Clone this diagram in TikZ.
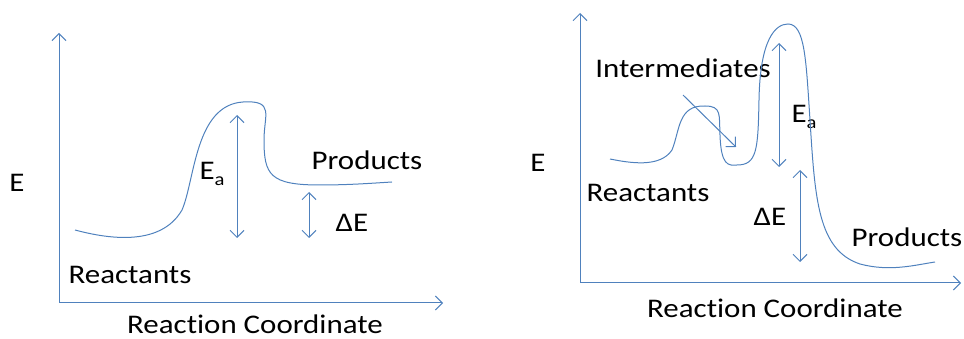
\documentclass[tikz,border=0pt]{standalone}
\usepackage{fontspec}
\setmainfont[FakeStretch=1.15,Ligatures=NoCommon]{Carlito}
\usetikzlibrary{arrows.meta}
\definecolor{linecol}{RGB}{79,129,189}
\begin{document}
\begin{tikzpicture}[line width=1bp,
  lbl/.style={font=\fontsize{27}{30}\selectfont,inner sep=0pt},
  axis/.style={draw=linecol,-{Straight Barb[length=7bp,width=14bp]}},
  gap/.style={draw=linecol,{Straight Barb[length=7bp,width=14bp]}-{Straight Barb[length=7bp,width=14bp]}},
  curve/.style={draw=linecol}]
  \useasboundingbox (0bp,0bp) rectangle (964bp,339bp);
  \coordinate (O1) at (59bp,36bp);
  \coordinate (Y1) at (59bp,306bp);
  \coordinate (X1) at (443bp,36bp);
  \coordinate (O2) at (580bp,56bp);
  \coordinate (Y2) at (580bp,326bp);
  \coordinate (X2) at (961bp,56bp);
  \node (E1) at (17bp,156bp) [lbl] {E};
  \node (Ea1) at (212bp,165bp) [lbl] {E\raisebox{-0.5ex}{\fontsize{18}{20}\selectfont a}};
  \node (Prod1) at (367bp,179bp) [lbl] {Products};
  \node (dE1) at (352bp,116bp) [lbl] {ΔE};
  \node (React1) at (130bp,64bp) [lbl] {Reactants};
  \node (RC1) at (255bp,15bp) [lbl] {Reaction Coordinate};
  \node (E2) at (538bp,176bp) [lbl] {E};
  \node (Ea2) at (804bp,222bp) [lbl] {E\raisebox{-0.5ex}{\fontsize{18}{20}\selectfont a}};
  \node (Inter) at (683bp,271bp) [lbl] {Intermediates};
  \node (React2) at (648bp,146bp) [lbl] {Reactants};
  \node (Prod2) at (907bp,102bp) [lbl] {Products};
  \node (dE2) at (770bp,122bp) [lbl] {ΔE};
  \node (RC2) at (775bp,31bp) [lbl] {Reaction Coordinate};
  \coordinate (Ea1t) at (237bp,224bp);
  \coordinate (Ea1b) at (237bp,101bp);
  \coordinate (dE1t) at (309bp,147bp);
  \coordinate (dE1b) at (309bp,101bp);
  \coordinate (Ea2t) at (779bp,296bp);
  \coordinate (Ea2b) at (779bp,172bp);
  \coordinate (dE2t) at (800bp,169bp);
  \coordinate (dE2b) at (800bp,77bp);
  \coordinate (Int0) at (683bp,244bp);
  \coordinate (Int1) at (736bp,192bp);
  \draw [axis] (O1) -- (Y1);
  \draw [axis] (O1) -- (X1);
  \draw [axis] (O2) -- (Y2);
  \draw [axis] (O2) -- (X2);
  \draw [curve] (75bp,109bp) ..controls (105bp,101bp) and (160bp,91bp) .. (182bp,129bp) ..controls (195bp,159bp) and (195bp,234bp) .. (243bp,237bp) ..controls (275bp,239bp) and (264bp,224bp) .. (264bp,199bp) ..controls (264bp,164bp) and (270bp,154bp) .. (320bp,154bp) ..controls (350bp,154bp) and (375bp,156bp) .. (392bp,157bp);
  \draw [curve] (610bp,180bp) ..controls (630bp,176bp) and (660bp,171bp) .. (672bp,189bp) ..controls (680bp,209bp) and (678bp,234bp) .. (705bp,233bp) ..controls (722bp,233bp) and (719bp,224bp) .. (720bp,204bp) ..controls (721bp,174bp) and (728bp,173bp) .. (737bp,174bp) ..controls (757bp,174bp) and (758bp,189bp) .. (759bp,239bp) ..controls (760bp,299bp) and (775bp,315bp) .. (788bp,315bp) ..controls (805bp,315bp) and (806bp,279bp) .. (810bp,219bp) ..controls (815bp,139bp) and (818bp,89bp) .. (860bp,75bp) ..controls (890bp,67bp) and (915bp,74bp) .. (935bp,77bp);
  \draw [gap] (Ea1t) -- (Ea1b);
  \draw [gap] (dE1t) -- (dE1b);
  \draw [gap] (Ea2t) -- (Ea2b);
  \draw [gap] (dE2t) -- (dE2b);
  \draw [axis] (Int0) -- (Int1);
\end{tikzpicture}
\end{document}
